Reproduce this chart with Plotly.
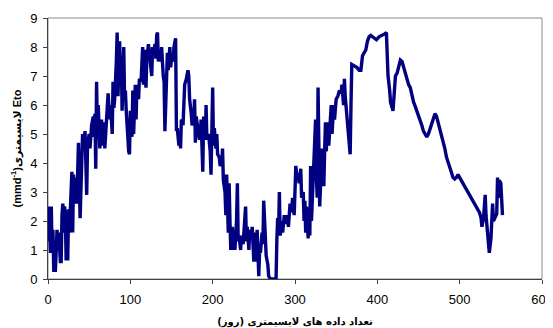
import plotly.graph_objects as go

days = [0,1,3,4,5,6,7,9,10,11,12,13,15,16,17,18,19,20,21,22,24,25,26,27,28,29,30,31,32,34,35,37,39,40,42,43,45,47,48,50,51,52,53,55,56,57,58,59,60,61,63,64,65,66,68,69,70,72,73,75,76,78,79,80,81,83,84,85,86,87,88,89,90,91,92,93,94,95,96,98,99,100,102,103,104,106,107,108,110,111,113,115,116,117,119,120,122,124,126,127,128,130,131,132,133,134,136,137,138,140,141,142,144,145,146,148,149,150,152,153,155,156,157,159,160,161,162,164,165,166,168,170,171,172,174,175,177,178,179,180,181,183,184,185,186,188,189,191,192,193,195,197,198,200,201,202,204,205,206,208,209,211,212,213,215,216,217,219,220,221,222,224,225,226,227,229,230,231,232,234,235,237,238,240,241,242,244,245,247,248,249,250,252,253,254,256,257,258,260,261,262,264,265,267,268,270,273,277,278,279,280,281,282,284,285,287,289,291,292,294,296,297,299,301,302,304,305,307,308,310,311,312,313,314,316,317,318,319,320,321,322,324,325,326,327,328,330,331,332,333,335,336,337,338,339,341,342,343,344,345,347,348,350,352,354,356,357,359,360,361,363,365,366,367,368,369,372,375,378,380,382,384,386,388,390,392,395,397,399,402,406,409,411,412,413,415,416,418,419,421,422,424,426,428,430,432,434,436,438,440,442,444,446,448,450,452,454,456,458,460,462,464,466,468,470,472,474,476,478,480,482,484,486,488,490,492,494,496,498,500,502,504,506,508,510,512,514,516,518,520,522,524,526,527,529,531,532,534,536,538,540,541,543,545,546,547,548,550,552]

eto = [1.3,2.5,0.9,2.5,0.9,1.7,0.3,0.3,1.0,1.7,1.0,1.6,0.6,0.6,2.2,2.6,1.6,2.5,2.3,0.7,0.7,2.4,1.6,2.2,3.1,3.7,1.6,3.6,2.6,3.5,2.6,4.7,2.1,3.5,5.0,4.6,5.1,2.9,4.6,5.0,4.5,4.9,5.3,5.6,4.9,5.7,3.8,6.8,5.0,6.0,4.5,5.3,5.5,4.6,5.4,4.5,5.0,5.8,6.4,5.5,6.0,5.0,6.8,5.9,6.2,7.5,8.5,6.3,7.2,8.2,7.0,7.7,5.8,7.0,8.0,6.2,6.5,5.8,5.2,4.4,4.3,5.8,4.9,6.5,5.0,6.7,5.5,6.7,6.2,6.9,6.8,8.0,6.7,7.9,6.6,7.6,8.1,7.5,7.0,8.0,7.7,8.1,7.6,8.4,8.5,7.5,7.8,7.5,8.0,7.0,6.8,5.1,7.0,7.8,7.2,8.0,7.3,7.6,7.5,8.0,8.3,5.1,5.2,4.6,5.0,4.5,5.5,5.3,6.6,6.7,6.9,7.2,7.0,6.2,5.7,5.3,5.5,6.2,4.7,5.6,5.4,5.0,4.8,5.0,5.5,3.7,5.6,4.8,6.0,4.8,5.0,4.4,3.6,6.6,4.6,5.2,4.5,5.0,4.3,4.2,3.9,4.0,4.5,3.4,3.0,2.2,3.6,1.6,3.3,2.0,1.0,1.8,1.0,1.6,1.0,2.0,3.3,1.3,1.5,1.0,1.5,1.2,1.6,2.5,1.3,1.8,1.0,1.7,1.4,1.8,1.2,0.6,1.6,0.6,1.7,0.1,1.0,0.9,1.6,1.2,2.7,1.4,0.8,0.5,0.1,0.0,0.0,0.0,1.4,2.1,1.5,3.0,1.5,2.0,1.6,2.2,1.9,2.2,1.8,2.6,2.3,2.8,2.2,3.9,3.6,3.6,3.3,3.8,2.8,3.0,2.0,2.7,1.6,2.5,1.4,2.4,1.5,3.9,2.0,2.8,3.5,5.3,5.5,3.5,2.8,6.6,2.5,3.2,3.3,4.5,3.2,4.4,5.4,4.4,5.4,4.6,5.0,5.5,6.0,5.0,6.0,5.5,6.2,6.3,6.5,6.4,6.7,6.0,6.9,6.3,5.6,5.0,4.6,4.3,6.0,7.4,7.35,7.3,7.2,7.2,7.7,7.8,7.9,8.2,8.35,8.4,8.35,8.3,8.25,8.35,8.4,8.45,8.5,7.7,7.0,6.5,6.1,5.9,5.8,6.6,7.0,7.1,7.4,7.55,7.5,7.3,7.0,6.8,6.7,6.6,6.3,6.1,5.95,5.8,5.6,5.5,5.3,5.1,5.0,4.9,5.0,5.2,5.4,5.6,5.7,5.6,5.4,5.2,5.0,4.7,4.5,4.2,4.0,3.8,3.6,3.5,3.45,3.5,3.6,3.5,3.45,3.35,3.2,3.1,3.0,2.9,2.8,2.7,2.6,2.5,2.4,2.3,2.1,1.8,2.1,2.9,2.2,1.6,0.9,1.4,2.6,2.0,2.1,2.25,3.5,2.8,3.4,3.3,2.2]

x_ticks = [0, 100, 200, 300, 400, 500, 600]
y_ticks = [0, 1, 2, 3, 4, 5, 6, 7, 8, 9]
x_title = "تعداد داده های لایسیمتری (روز)"
y_title = "(mmd<sup>-1</sup>)لایسیمتری Eto"

fig = go.Figure()
fig.add_trace(go.Scatter(x=days, y=eto, mode="lines",
                         line=dict(color="#000080", width=3.4),
                         showlegend=False, hoverinfo="skip"))

fig.add_shape(type="rect", xref="paper", yref="paper", x0=0, y0=0, x1=1, y1=1,
              line=dict(color="#8a8a8a", width=1), layer="below")

fnt = dict(family="Liberation Sans, Arial, sans-serif", size=13, color="#000000")
fig.update_layout(
    width=545, height=320,
    margin=dict(l=40, r=11, t=10, b=49),
    paper_bgcolor="white", plot_bgcolor="white",
    font=fnt,
    xaxis=dict(range=[0, 600], tickvals=x_ticks, ticks="outside", ticklen=4,
               tickcolor="#404040", showline=True, linecolor="#404040", linewidth=1,
               showgrid=False, zeroline=False, tickfont=fnt, automargin=False,
               ticklabelstandoff=4,
               title=dict(text="<b>" + x_title + "</b>", font=dict(family="DejaVu Sans", size=10), standoff=12)),
    yaxis=dict(range=[0, 9], tickvals=y_ticks, ticks="outside", ticklen=4,
               tickcolor="#404040", showline=True, linecolor="#404040", linewidth=1,
               showgrid=False, zeroline=False, tickfont=fnt, automargin=False,
               ticklabelstandoff=3,
               title=dict(text="<b>" + y_title + "</b>", font=dict(family="Liberation Sans, DejaVu Sans", size=11), standoff=6)),
)
fig.write_html("out.html")
